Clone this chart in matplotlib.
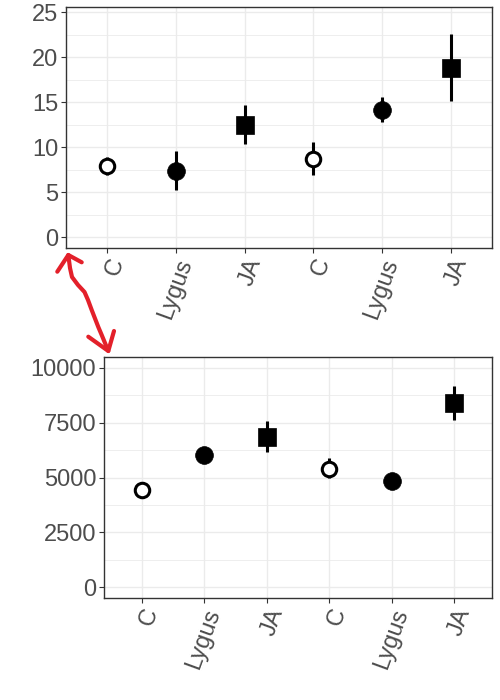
import numpy as np
import matplotlib
matplotlib.use("Agg")
import matplotlib.pyplot as plt
from matplotlib.lines import Line2D

# ---------------------------------------------------------------------------
# Data
# ---------------------------------------------------------------------------

CATEGORIES = ["C", "Lygus", "JA", "C", "Lygus", "JA"]

TOP_MEAN = [7.9, 7.4, 12.5, 8.7, 14.2, 18.8]
TOP_LOW = [6.9, 5.2, 10.4, 6.9, 12.8, 15.1]
TOP_HIGH = [8.95, 9.6, 14.7, 10.6, 15.6, 22.6]

BOT_MEAN = [4420, 6020, 6830, 5390, 4850, 8420]
BOT_LOW = [4070, 5900, 6150, 5000, 4750, 7620]
BOT_HIGH = [4770, 6150, 7560, 5900, 4950, 9180]

TOP_TICKS = [0, 5, 10, 15, 20, 25]
BOT_TICKS = [0, 2500, 5000, 7500, 10000]

# marker style per treatment
STYLE = {
    "C": dict(marker="o", markersize=10.4, markerfacecolor="white",
              markeredgecolor="black", markeredgewidth=2.2),
    "Lygus": dict(marker="o", markersize=12.8, markerfacecolor="black",
                  markeredgecolor="black", markeredgewidth=0.5),
    "JA": dict(marker="s", markersize=12.6, markerfacecolor="black",
               markeredgecolor="black", markeredgewidth=0.5),
}

TEXT_COLOR = "#4D4D4D"
GRID_COLOR = "#EBEBEB"
FRAME_COLOR = "#333333"

plt.rcParams["font.family"] = ["Liberation Sans", "DejaVu Sans"]


def draw_panel(ax, mean, low, high, ticks, ylim):
    x = np.arange(1, len(CATEGORIES) + 1)
    mean = np.array(mean, dtype=float)
    yerr = np.vstack([mean - np.array(low), np.array(high) - mean])
    ax.errorbar(x, mean, yerr=yerr, fmt="none", ecolor="black",
                elinewidth=2.2, capsize=0, zorder=3)
    for xi, yi, cat in zip(x, mean, CATEGORIES):
        ax.plot([xi], [yi], linestyle="none", zorder=4, **STYLE[cat])

    ax.set_xlim(0.4, len(CATEGORIES) + 0.6)
    ax.set_ylim(*ylim)
    ax.set_xticks(x)
    ax.set_xticklabels(CATEGORIES, rotation=70, rotation_mode="anchor",
                       ha="right", va="top")
    ax.set_yticks(ticks)
    step = ticks[1] - ticks[0]
    ax.set_yticks(np.array(ticks[:-1]) + step / 2, minor=True)
    ax.tick_params(axis="both", which="major", labelsize=17, colors=FRAME_COLOR,
                   labelcolor=TEXT_COLOR, length=3.5, width=0.8, pad=2)
    ax.tick_params(axis="y", which="minor", length=0)
    ax.grid(which="major", color=GRID_COLOR, linewidth=1.0, zorder=0)
    ax.grid(which="minor", axis="y", color=GRID_COLOR, linewidth=0.6, zorder=0)
    ax.set_axisbelow(True)
    for spine in ax.spines.values():
        spine.set_color(FRAME_COLOR)
        spine.set_linewidth(1.0)


fig = plt.figure(figsize=(5, 7), dpi=100)
fig.patch.set_facecolor("white")

ax_top = fig.add_axes([0.132, 0.6457, 0.852, 0.3443])
draw_panel(ax_top, TOP_MEAN, TOP_LOW, TOP_HIGH, TOP_TICKS, (-1.2, 25.6))

ax_bot = fig.add_axes([0.208, 0.1457, 0.776, 0.3443])
draw_panel(ax_bot, BOT_MEAN, BOT_LOW, BOT_HIGH, BOT_TICKS, (-500, 10500))

# hand-drawn red double arrow between the panels (figure pixels, origin top-left)
RED = "#E3202A"
arrow_path = [(68.3, 255), (70, 268), (72, 277), (78, 285), (84.5, 292),
              (88, 300), (91.7, 310), (95, 318.5), (98.3, 327), (101.7, 335),
              (105, 343), (108.3, 351)]
head_top = [(57.3, 271.7), (68.3, 255), (81.7, 262.3)]
head_bot = [(88.3, 336.7), (108.3, 351), (114, 331)]
for pts in (arrow_path, head_top, head_bot):
    xs = [p[0] / 500 for p in pts]
    ys = [1 - p[1] / 700 for p in pts]
    fig.add_artist(Line2D(xs, ys, color=RED, linewidth=3.0,
                          solid_capstyle="round", solid_joinstyle="round"))

fig.savefig("out.png", dpi=100, facecolor="white")
